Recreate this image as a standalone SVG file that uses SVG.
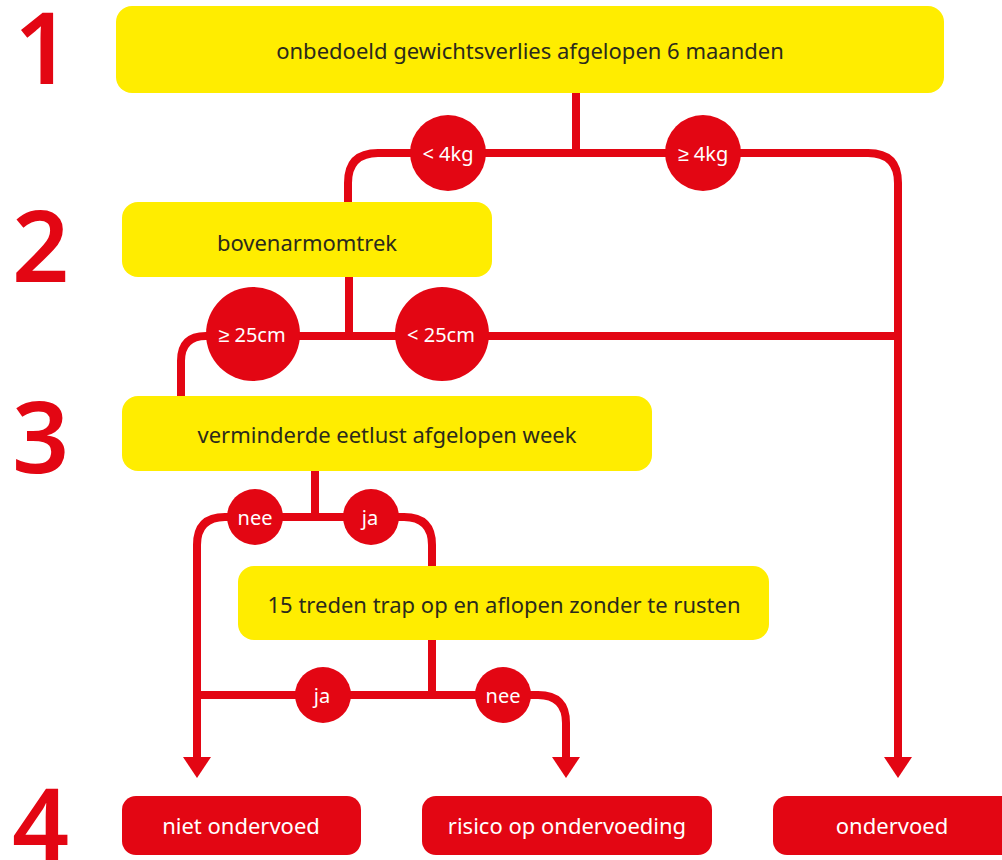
<svg xmlns="http://www.w3.org/2000/svg" width="1002" height="860" viewBox="0 0 1002 860">
<style>
.num{font-family:"Noto Sans","Liberation Sans",sans-serif;font-size:100px;font-weight:600;fill:#E30613}
.yb{fill:#FFED00}
.rb{fill:#E30613}
.bt{font-family:"Noto Sans","Liberation Sans",sans-serif;font-size:22px;fill:#2b2a1c;text-anchor:middle}
.wt{font-family:"Noto Sans","Liberation Sans",sans-serif;font-size:22px;fill:#ffffff;text-anchor:middle}
.ct{font-family:"Noto Sans","Liberation Sans",sans-serif;font-size:20px;fill:#ffffff;text-anchor:middle}
.c{fill:#E30613}
.ln{fill:none;stroke:#E30613;stroke-width:8}
</style>
<defs>
<marker id="arr" markerUnits="userSpaceOnUse" viewBox="0 -14 21 28" markerWidth="21" markerHeight="28" refX="0" refY="0" orient="auto">
<path d="M0,-14 L21,0 L0,14 Z" fill="#E30613"/>
</marker>
</defs>

<g id="step-numbers">
<text class="num" x="14" y="84">1</text>
<text class="num" x="12" y="282">2</text>
<text class="num" x="12" y="473">3</text>
<text class="num" x="12" y="860">4</text>
</g>

<g id="connectors">
<path class="ln" d="M576,93 V153"/>
<path class="ln" d="M576,153 H378 Q348,153 348,183 V202"/>
<path class="ln" d="M576,153 H868 Q898,153 898,183 V757" marker-end="url(#arr)"/>
<path class="ln" d="M349,277 V336"/>
<path class="ln" d="M898,336 H206 Q181,336 181,361 V396"/>
<path class="ln" d="M315,471 V517"/>
<path class="ln" d="M432,566 V545 Q432,517 404,517 H225 Q197,517 197,545 V757" marker-end="url(#arr)"/>
<path class="ln" d="M432,640 V695"/>
<path class="ln" d="M197,695 H538 Q566,695 566,723 V757" marker-end="url(#arr)"/>
</g>

<g id="node-q1">
<rect class="yb" x="116" y="6" width="828" height="87" rx="16"/>
<text class="bt" x="530" y="59">onbedoeld gewichtsverlies afgelopen 6 maanden</text>
</g>
<g id="node-q2">
<rect class="yb" x="122" y="202" width="370" height="75" rx="16"/>
<text class="bt" x="307" y="251">bovenarmomtrek</text>
</g>
<g id="node-q3">
<rect class="yb" x="122" y="396" width="530" height="75" rx="16"/>
<text class="bt" x="387" y="443">verminderde eetlust afgelopen week</text>
</g>
<g id="node-q4">
<rect class="yb" x="238" y="566" width="531" height="74" rx="16"/>
<text class="bt" x="504" y="613">15 treden trap op en aflopen zonder te rusten</text>
</g>

<g id="label-lt4kg"><circle class="c" cx="448" cy="153" r="38"/><text class="ct" x="448" y="161">&lt; 4kg</text></g>
<g id="label-ge4kg"><circle class="c" cx="703" cy="153" r="38"/><text class="ct" x="703" y="161">≥ 4kg</text></g>
<g id="label-ge25cm"><circle class="c" cx="253" cy="334" r="47"/><text class="ct" x="252" y="342">≥ 25cm</text></g>
<g id="label-lt25cm"><circle class="c" cx="442" cy="334" r="47"/><text class="ct" x="441" y="342">&lt; 25cm</text></g>
<g id="label-nee1"><circle class="c" cx="255" cy="517" r="28"/><text class="ct" x="255" y="525">nee</text></g>
<g id="label-ja1"><circle class="c" cx="371" cy="517" r="28"/><text class="ct" x="370" y="525">ja</text></g>
<g id="label-ja2"><circle class="c" cx="323" cy="695" r="28"/><text class="ct" x="322" y="703">ja</text></g>
<g id="label-nee2"><circle class="c" cx="503" cy="695" r="28"/><text class="ct" x="503" y="703">nee</text></g>

<g id="node-niet-ondervoed">
<rect class="rb" x="122" y="796" width="239" height="59" rx="14"/>
<text class="wt" x="241" y="834">niet ondervoed</text>
</g>
<g id="node-risico">
<rect class="rb" x="422" y="796" width="290" height="59" rx="14"/>
<text class="wt" x="567" y="834">risico op ondervoeding</text>
</g>
<g id="node-ondervoed">
<rect class="rb" x="773" y="796" width="245" height="59" rx="14"/>
<text class="wt" x="892" y="834">ondervoed</text>
</g>
</svg>
